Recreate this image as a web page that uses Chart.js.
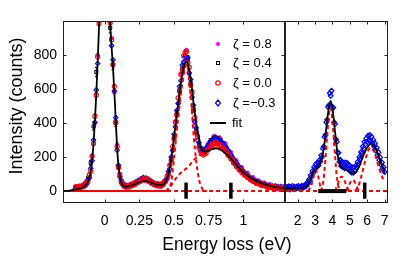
<!DOCTYPE html>
<html><head><meta charset="utf-8">
<script src="https://cdn.jsdelivr.net/npm/chart.js@4.4.1/dist/chart.umd.min.js"></script>
<style>
html,body{margin:0;padding:0;background:#fff;width:399px;height:259px;overflow:hidden;}
#wrap{position:relative;width:399px;height:259px;}
canvas{position:absolute;top:0;}
#cL{left:0;} #cR{left:285px;}
#xt{position:absolute;left:127px;width:200px;top:234px;text-align:center;font-family:'Liberation Sans',Arial,sans-serif;font-size:17.5px;line-height:20px;color:#000;white-space:nowrap;}
</style></head><body>
<div id="wrap">
<canvas id="cL" width="286" height="259"></canvas>
<canvas id="cR" width="114" height="259"></canvas>
<div id="xt">Energy loss (eV)</div>
</div>
<script>
// ---------------- DATA ----------------
const X_TITLE = 'Energy loss (eV)';
const Y_TITLE = 'Intensity (counts)';
const LEGEND_LABELS = ['ζ = 0.8', 'ζ = 0.4', 'ζ = 0.0', 'ζ =−0.3', 'fit'];
const Y_TICKS = [0, 200, 400, 600, 800];
const X_TICKS_L = [0, 0.25, 0.5, 0.75, 1];
const X_LABELS_L = ['0', '0.25', '0.5', '0.75', '1'];
const X_TICKS_R = [2, 3, 4, 5, 6, 7];
const X_LABELS_R = ['2', '3', '4', '5', '6', '7'];

// left panel energy grid (eV)
const E_L = [
-0.21,-0.20,-0.19,-0.18,-0.17,-0.16,-0.15,-0.14,-0.13,-0.12,
-0.11,-0.10,-0.09,-0.08,-0.07,-0.06,-0.05,-0.04,-0.03,-0.02,
-0.01,0.00,0.01,0.02,0.03,0.04,0.05,0.06,0.07,0.08,
0.09,0.10,0.11,0.12,0.13,0.14,0.15,0.16,0.17,0.18,
0.19,0.20,0.21,0.22,0.23,0.24,0.25,0.26,0.27,0.28,
0.29,0.30,0.31,0.32,0.33,0.34,0.35,0.36,0.37,0.38,
0.39,0.40,0.41,0.42,0.43,0.44,0.45,0.46,0.47,0.48,
0.49,0.50,0.51,0.52,0.53,0.54,0.55,0.56,0.57,0.58,
0.59,0.60,0.61,0.62,0.63,0.64,0.65,0.66,0.67,0.68,
0.69,0.70,0.71,0.72,0.73,0.74,0.75,0.76,0.77,0.78,
0.79,0.80,0.81,0.82,0.83,0.84,0.85,0.86,0.87,0.88,
0.89,0.90,0.91,0.92,0.93,0.94,0.95,0.96,0.97,0.98,
0.99,1.00,1.01,1.02,1.03,1.04,1.05,1.06,1.07,1.08,
1.09,1.10,1.11,1.12,1.13,1.14,1.15,1.16,1.17,1.18,
1.19,1.20,1.21,1.22,1.23,1.24,1.25,1.26,1.27,1.28,
1.29,1.30];
// zeta = 0.0 (red circles)
const Z00 = [
24,18,27,21,29,25,36,33,52,56,
95,118,205,280,440,565,790,985,1260,1490,
1720,1770,1710,1480,1270,990,890,745,615,405,
262,138,98,52,47,28,34,24,33,27,
38,33,46,40,54,50,57,60,72,66,
75,64,70,56,60,45,49,37,42,31,
39,30,41,38,55,58,88,98,150,182,
262,308,405,448,548,588,685,712,795,815,
820,755,728,625,580,475,432,345,318,258,
240,222,212,220,222,240,246,262,268,282,
278,290,276,282,268,270,252,254,234,232,
212,208,190,186,166,162,144,142,126,124,
108,108,94,93,80,80,68,68,58,60,
49,50,42,45,36,39,31,34,27,31,
23,28,21,26,19,24,17,22,16,21,
15,20];
// zeta = -0.3 (blue diamonds), left panel
const ZM03_L = [
16,24,19,28,22,32,27,42,40,66,
78,134,178,300,405,595,750,1010,1240,1510,
1690,1790,1690,1520,1235,1012,855,772,588,432,
240,152,84,64,38,38,26,33,27,36,
32,42,38,52,48,62,64,70,66,80,
72,76,62,68,52,56,42,46,36,42,
33,40,34,48,46,68,74,114,130,200,
240,334,378,474,515,615,648,740,760,792,
785,785,695,656,552,505,408,372,300,284,
255,246,238,242,250,260,275,284,296,300,
308,302,306,296,298,284,284,268,264,246,
240,222,214,196,190,172,166,150,144,130,
126,112,108,97,94,83,80,71,68,61,
62,48,54,41,47,35,41,30,37,26,
33,23,30,21,28,19,26,17,25,16,
23,15];

// grid for zeta = 0.4 (black squares)
const E_K = [
-0.20,-0.18,-0.16,-0.14,-0.12,-0.10,-0.08,-0.06,-0.04,-0.02,
0.00,0.02,0.04,0.06,0.08,0.10,0.12,0.14,0.16,0.18,
0.20,0.22,0.24,0.26,0.28,0.30,0.32,0.34,0.36,0.38,
0.40,0.42,0.44,0.46,0.48,0.50,0.52,0.54,0.56,0.58,
0.60,0.62,0.64,0.66,0.68,0.70,0.72,0.74,0.76,0.78,
0.80,0.82,0.84,0.86,0.88,0.90,0.92,0.94,0.96,0.98,
1.00,1.02,1.04,1.06,1.08,1.10,1.12,1.14,1.16,1.18,
1.20,1.22,1.24,1.26,1.28,1.30];
const Z04 = [
23,27,30,44,75,165,380,700,1100,1600,
1800,1450,960,740,400,140,55,30,27,30,
36,44,54,63,69,68,60,49,40,35,
34,41,60,102,185,315,455,595,720,800,
768,636,486,356,270,240,236,262,290,305,
310,304,292,272,250,224,198,172,150,130,
112,96,82,70,60,51,44,38,33,29,
26,24,22,20,19,18];
const Z04_ERR = [
8,8,9,10,12,16,22,28,33,40,
42,38,31,27,20,12,8,7,7,7,
8,8,9,9,9,9,8,8,7,7,
7,7,8,11,14,18,21,25,27,29,
28,25,22,19,17,16,16,17,18,18,
18,18,17,17,16,15,14,13,12,12,
11,10,9,9,8,8,7,7,7,7,
7,7,7,7,7,7];

// grid for zeta = 0.8 (magenta dots)
const E_M = [
-0.21,-0.19,-0.17,-0.15,-0.13,-0.11,-0.09,-0.07,-0.05,-0.03,
-0.01,0.01,0.03,0.05,0.07,0.09,0.11,0.13,0.15,0.17,
0.19,0.21,0.23,0.25,0.27,0.29,0.31,0.33,0.35,0.37,
0.39,0.41,0.43,0.45,0.47,0.49,0.51,0.53,0.55,0.57,
0.59,0.61,0.63,0.65,0.67,0.69,0.71,0.73,0.75,0.77,
0.79,0.81,0.83,0.85,0.87,0.89,0.91,0.93,0.95,0.97,
0.99,1.01,1.03,1.05,1.07,1.09,1.11,1.13,1.15,1.17,
1.19,1.21,1.23,1.25,1.27,1.29];
const Z08 = [
26,17,31,26,58,80,210,400,800,1200,
1700,1720,1280,900,580,275,100,36,38,22,
42,34,58,54,78,62,74,48,52,30,
44,28,58,70,158,236,410,515,690,760,
830,690,590,400,330,232,250,230,285,270,
325,280,315,256,280,210,230,162,180,122,
140,90,108,64,82,44,62,30,50,20,
40,14,34,12,30,10];

// left fit
const FIT_LE = [-0.30,-0.25,-0.21,-0.17,-0.15,-0.13,-0.11,-0.10,-0.09,-0.08,-0.07,-0.06,-0.05,-0.04,-0.03,-0.02,-0.01,0.00,0.01,0.02,0.03,0.04,0.05,0.06,0.07,0.08,0.09,0.10,0.11,0.12,0.13,0.15,0.18,0.22,0.26,0.29,0.32,0.35,0.38,0.41,0.44,0.46,0.48,0.50,0.52,0.54,0.56,0.58,0.59,0.60,0.62,0.64,0.66,0.68,0.70,0.72,0.74,0.77,0.80,0.83,0.86,0.90,0.94,0.98,1.02,1.06,1.10,1.14,1.18,1.22,1.26,1.30];
const FIT_LV = [0,3,10,18,25,40,78,118,182,278,410,575,760,975,1210,1430,1600,1660,1600,1430,1210,990,850,730,585,420,255,145,85,52,36,26,30,42,55,60,55,45,37,36,55,100,190,315,450,580,690,752,760,748,665,525,400,310,245,232,236,246,252,246,230,200,162,126,98,75,57,44,33,25,21,18];
// left fit components
const CMAIN_E = [0.44,0.46,0.48,0.50,0.52,0.54,0.56,0.58,0.59,0.60,0.62,0.64,0.66,0.68,0.70,0.72,0.74];
const CMAIN_V = [0,10,55,190,355,505,635,725,740,722,570,345,175,70,20,4,0];
const CBROAD_E = [0.44,0.47,0.50,0.53,0.57,0.60,0.64,0.69,0.74,0.80,0.83,0.86,0.90,0.94,0.98,1.02,1.06,1.10,1.14,1.18,1.22,1.26,1.30];
const CBROAD_V = [0,22,58,92,122,140,180,215,235,250,246,230,200,162,126,98,75,57,44,33,25,21,18];
const BASE_SOLID_E = [-0.30, 0.45];
const BASE_DASH_E = [0.45, 1.30];
const BASE_R_E = [1.27, 7.20];
// resolution / marker bars
const BARS_L = [0.587, 0.91];
const BAR_V = [-45, 50];
const HBAR_R = [3.18, 4.80];
const BARS_R = [5.86];

// right panel: zeta = -0.3 only
const E_R = [
1.30,1.35,1.40,1.45,1.50,1.55,1.60,1.65,1.70,1.75,
1.80,1.85,1.90,1.95,2.00,2.05,2.10,2.15,2.20,2.25,
2.30,2.35,2.40,2.45,2.50,2.55,2.60,2.65,2.70,2.75,
2.80,2.85,2.90,2.95,3.00,3.05,3.10,3.15,3.20,3.25,
3.30,3.35,3.40,3.45,3.50,3.55,3.60,3.65,3.70,3.75,
3.80,3.85,3.90,3.95,4.00,4.05,4.10,4.15,4.20,4.25,
4.30,4.35,4.40,4.45,4.50,4.55,4.60,4.65,4.70,4.75,
4.80,4.85,4.90,4.95,5.00,5.05,5.10,5.15,5.20,5.25,
5.30,5.35,5.40,5.45,5.50,5.55,5.60,5.65,5.70,5.75,
5.80,5.85,5.90,5.95,6.00,6.05,6.10,6.15,6.20,6.25,
6.30,6.35,6.40,6.45,6.50,6.55,6.60,6.65,6.70,6.75,
6.80,6.85,6.90,6.95,7.00];
const ZM03_R = [
25,12,24,15,28,10,22,16,30,12,
25,18,14,27,20,30,15,26,20,32,
18,30,24,38,30,50,44,68,62,92,
85,118,108,142,130,160,142,168,150,182,
172,210,200,250,262,318,330,405,420,495,
505,575,560,590,495,490,405,395,305,290,
225,225,172,185,148,172,140,165,135,168,
138,165,130,155,118,145,110,138,108,140,
118,150,138,172,160,200,190,230,222,262,
250,290,275,310,290,325,300,330,298,320,
280,300,262,280,238,255,212,228,182,198,
155,168,130,140,112];
const FIT_RE = [1.27,1.6,2.0,2.3,2.5,2.6,2.7,2.8,2.9,3.0,3.1,3.2,3.3,3.4,3.5,3.6,3.7,3.8,3.9,4.0,4.1,4.2,4.3,4.4,4.5,4.7,4.9,5.1,5.25,5.4,5.6,5.8,6.0,6.15,6.25,6.4,6.6,6.8,7.0];
const FIT_RV = [18,18,18,20,26,40,62,88,110,125,135,148,165,195,250,330,420,495,530,485,400,300,215,168,145,130,120,108,104,118,160,215,255,275,280,262,222,165,105];
const CR1_E = [2.6,2.8,2.95,3.05,3.15,3.3,3.45];
const CR1_V = [0,40,100,122,100,30,0];
const CR2_E = [3.3,3.45,3.6,3.7,3.8,3.87,3.95,4.05,4.15,4.25,4.35,4.45];
const CR2_V = [0,40,190,330,450,490,460,350,210,90,25,0];
const CR3_E = [4.15,4.3,4.45,4.55,4.7,4.85,5.0];
const CR3_V = [0,40,80,85,60,20,0];
const CR4_E = [4.8,4.95,5.1,5.2,5.3,5.45,5.55];
const CR4_V = [0,35,62,65,50,15,0];
const CR5_E = [5.3,5.5,5.7,5.9,6.05,6.2,6.35,6.5,6.7,6.9,7.0];
const CR5_V = [0,30,100,185,235,255,240,200,130,75,55];

// ---------------- checks ----------------
[[E_L,Z00,'Z00'],[E_L,ZM03_L,'ZM03_L'],[E_K,Z04,'Z04'],[E_K,Z04_ERR,'ERR'],[E_M,Z08,'Z08'],[FIT_LE,FIT_LV,'FITL'],
 [CMAIN_E,CMAIN_V,'CM'],[CBROAD_E,CBROAD_V,'CB'],[E_R,ZM03_R,'ZR'],[FIT_RE,FIT_RV,'FITR'],
 [CR1_E,CR1_V,'1'],[CR2_E,CR2_V,'2'],[CR3_E,CR3_V,'3'],[CR4_E,CR4_V,'4'],[CR5_E,CR5_V,'5']].forEach(([a,b,n])=>{
  if (a.length !== b.length) throw new Error('length mismatch ' + n + ' ' + a.length + ' vs ' + b.length);
});

// ---------------- helpers ----------------
const FONT = "'Liberation Sans', Arial, sans-serif";
const pts = (E, V) => E.map((x, i) => ({x, y: V[i]}));
const flat = (E, v) => E.map(x => ({x, y: v}));
const RED = '#ff0000', BLUE = '#0000ff', MAG = '#ff00ff', BLK = '#000000';

function scatterDs(data, style, color, r, fill, bw) {
  return {data, showLine: false, pointStyle: style, pointRadius: r, pointBorderColor: color,
          pointBackgroundColor: fill, pointBorderWidth: bw, clip: 0};
}
function lineDs(data, color, width, dash) {
  return {data, showLine: true, borderColor: color, borderWidth: width, borderDash: dash || [],
          pointRadius: 0, cubicInterpolationMode: 'monotone', fill: false, clip: 0};
}
function makeBox(xt, yt, yl, yr) {
  return {
    id: 'box',
    afterDraw(chart) {
      const {ctx, chartArea: a} = chart;
      const x = chart.scales.x, y = chart.scales.y;
      const L = Math.round(a.left) + 0.5, R = Math.round(a.right) - 0.5;
      const T = Math.round(a.top) + 0.5, B = Math.round(a.bottom) - 0.5;
      ctx.save();
      ctx.strokeStyle = '#222'; ctx.lineWidth = 1;
      ctx.strokeRect(L, T, R - L, B - T);
      ctx.beginPath();
      const k = 3;
      xt.forEach(v => { const p = Math.round(x.getPixelForValue(v)) + 0.5;
        ctx.moveTo(p, B); ctx.lineTo(p, B - k); ctx.moveTo(p, T); ctx.lineTo(p, T + k); });
      yt.forEach(v => { const p = Math.round(y.getPixelForValue(v)) + 0.5;
        if (yl) { ctx.moveTo(L, p); ctx.lineTo(L + k, p); }
        if (yr) { ctx.moveTo(R, p); ctx.lineTo(R - k, p); } });
      ctx.stroke();
      ctx.restore();
    }
  };
}
const errPlugin = {
  id: 'errbars',
  beforeDatasetDraw(chart, args) {
    const ds = chart.data.datasets[args.index];
    if (!ds.errors) return;
    const {ctx, chartArea: a} = chart;
    const x = chart.scales.x, y = chart.scales.y;
    ctx.save();
    ctx.beginPath(); ctx.rect(a.left, a.top, a.right - a.left, a.bottom - a.top); ctx.clip();
    ctx.strokeStyle = '#000'; ctx.lineWidth = 1;
    ctx.beginPath();
    ds.data.forEach((p, i) => {
      const px = x.getPixelForValue(p.x), e = ds.errors[i];
      const y1 = y.getPixelForValue(p.y - e), y2 = y.getPixelForValue(p.y + e);
      ctx.moveTo(px, y1); ctx.lineTo(px, y2);
      ctx.moveTo(px - 1.5, y1); ctx.lineTo(px + 1.5, y1);
      ctx.moveTo(px - 1.5, y2); ctx.lineTo(px + 1.5, y2);
    });
    ctx.stroke();
    ctx.restore();
  }
};
const leftDeco = {
  id: 'leftDeco',
  afterDraw(chart) {
    const ctx = chart.ctx;
    ctx.save();
    ctx.fillStyle = '#000';
    ctx.font = '18px ' + FONT;
    ctx.translate(22, 106); ctx.rotate(-Math.PI / 2);
    ctx.textAlign = 'center'; ctx.textBaseline = 'alphabetic';
    ctx.fillText(Y_TITLE, 0, 0);
    ctx.restore();
    // legend
    ctx.save();
    const ys = [44, 63, 83, 103, 123];
    const mx = 218, tx = 233;
    ctx.font = '13px ' + FONT; ctx.textBaseline = 'middle'; ctx.textAlign = 'left'; ctx.fillStyle = '#000';
    LEGEND_LABELS.forEach((t, i) => ctx.fillText(t, i === 4 ? 232 : tx, ys[i]));
    ctx.lineWidth = 1;
    ctx.fillStyle = MAG; ctx.beginPath(); ctx.arc(mx, ys[0], 2, 0, 2 * Math.PI); ctx.fill();
    ctx.strokeStyle = BLK; ctx.strokeRect(mx - 1.5, ys[1] - 1.5, 3, 3);
    ctx.strokeStyle = RED; ctx.lineWidth = 1.2; ctx.beginPath(); ctx.arc(mx, ys[2], 2.2, 0, 2 * Math.PI); ctx.stroke();
    ctx.strokeStyle = BLUE; ctx.beginPath(); ctx.moveTo(mx, ys[3] - 3); ctx.lineTo(mx + 2.5, ys[3]); ctx.lineTo(mx, ys[3] + 3); ctx.lineTo(mx - 2.5, ys[3]); ctx.closePath(); ctx.stroke();
    ctx.strokeStyle = BLK; ctx.lineWidth = 2; ctx.beginPath(); ctx.moveTo(210, ys[4]); ctx.lineTo(226, ys[4]); ctx.stroke();
    ctx.restore();
  }
};

function yScale(display) {
  return {
    type: 'linear', min: -70, max: 1000, display,
    afterBuildTicks: s => { s.ticks = Y_TICKS.map(v => ({value: v})); },
    ticks: {font: {family: FONT, size: 14}, color: '#000', padding: 6},
    grid: {display: false, drawTicks: false}, border: {display: false},
    afterFit: s => { s.width = display ? 63 : 0; s.paddingTop = 0; s.paddingBottom = 0; }
  };
}
function xScale(min, max, ticks, labels) {
  return {
    type: 'linear', min, max,
    afterBuildTicks: s => { s.ticks = ticks.map(v => ({value: v})); },
    ticks: {font: {family: FONT, size: 14}, color: '#000', padding: 10, maxRotation: 0, autoSkip: false,
            callback: (v, i) => labels[i]},
    grid: {display: false, drawTicks: false}, border: {display: false},
    afterFit: s => { s.height = 56; s.paddingLeft = 0; s.paddingRight = 0; }
  };
}
const common = {
  responsive: false, animation: false, devicePixelRatio: 1, events: [],
  plugins: {legend: {display: false}, tooltip: {enabled: false}}
};

// ---------------- left chart ----------------
const leftDatasets = [
  lineDs(BAR_V.map(v => ({x: BARS_L[0], y: v})), BLK, 3.5),
  lineDs(BAR_V.map(v => ({x: BARS_L[1], y: v})), BLK, 3.5),
  lineDs(pts(FIT_LE, FIT_LV), BLK, 1.8),
  lineDs(pts(CMAIN_E, CMAIN_V), RED, 2, [4, 3]),
  lineDs(pts(CBROAD_E, CBROAD_V), RED, 2, [4, 3]),
  lineDs(flat(BASE_DASH_E, 0), RED, 2, [4, 3]),
  lineDs(flat(BASE_SOLID_E, 0), RED, 2),
  scatterDs(pts(E_L, Z00), 'circle', RED, 2.1, 'rgba(0,0,0,0)', 1.1),
  scatterDs(pts(E_L, ZM03_L), 'rectRot', BLUE, 2.3, 'rgba(0,0,0,0)', 1.1),
  Object.assign(scatterDs(pts(E_K, Z04), 'rect', BLK, 2.2, 'rgba(0,0,0,0)', 1), {errors: Z04_ERR}),
  scatterDs(pts(E_M, Z08), 'circle', MAG, 1.8, MAG, 1)
];
new Chart(document.getElementById('cL'), {
  type: 'scatter',
  data: {datasets: leftDatasets},
  options: Object.assign({}, common, {
    layout: {autoPadding: false, padding: {top: 21, right: 1, left: 0, bottom: 0}},
    scales: {x: xScale(-0.3, 1.3, X_TICKS_L, X_LABELS_L), y: yScale(true)}
  }),
  plugins: [errPlugin, makeBox(X_TICKS_L, Y_TICKS, true, true), leftDeco]
});

// ---------------- right chart ----------------
const rightDatasets = [
  lineDs(flat(HBAR_R, 0), BLK, 4),
  lineDs(BAR_V.map(v => ({x: BARS_R[0], y: v})), BLK, 3.5),
  lineDs(pts(FIT_RE, FIT_RV), BLK, 1.8),
  lineDs(pts(CR1_E, CR1_V), RED, 2, [4, 3]),
  lineDs(pts(CR2_E, CR2_V), RED, 2, [4, 3]),
  lineDs(pts(CR3_E, CR3_V), RED, 2, [4, 3]),
  lineDs(pts(CR4_E, CR4_V), RED, 2, [4, 3]),
  lineDs(pts(CR5_E, CR5_V), RED, 2, [4, 3]),
  lineDs(flat(BASE_R_E, 0), RED, 2, [4, 3]),
  scatterDs(pts(E_R, ZM03_R), 'rectRot', BLUE, 2.4, 'rgba(0,0,0,0)', 1.2)
];
new Chart(document.getElementById('cR'), {
  type: 'scatter',
  data: {datasets: rightDatasets},
  options: Object.assign({}, common, {
    layout: {autoPadding: false, padding: {top: 21, right: 11, left: 0, bottom: 0}},
    scales: {x: xScale(1.27, 7.2, X_TICKS_R, X_LABELS_R), y: yScale(false)}
  }),
  plugins: [makeBox(X_TICKS_R, Y_TICKS, false, true)]
});
</script></body></html>
